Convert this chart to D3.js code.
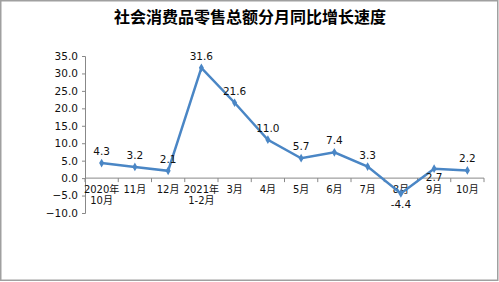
<!DOCTYPE html>
<html>
<head>
<meta charset="utf-8">
<script src="https://d3js.org/d3.v7.min.js"></script>
<style>
  body { margin: 0; background: #fff; }
  text { font-family: "DejaVu Sans", "Noto Sans CJK SC", sans-serif; }
</style>
</head>
<body>
<div id="chart"></div>
<script>
var months = ['2020年|10月', '11月', '12月', '2021年|1-2月', '3月', '4月', '5月', '6月', '7月', '8月', '9月', '10月'];
var growth = [4.3, 3.2, 2.1, 31.6, 21.6, 11.0, 5.7, 7.4, 3.3, -4.4, 2.7, 2.2];
var labelBelow = [false, false, false, false, false, false, false, false, false, true, true, false];
var yTicks = [-10, -5, 0, 5, 10, 15, 20, 25, 30, 35];

var width = 499, height = 282;

var svg = d3.select('#chart').append('svg')
    .attr('width', width)
    .attr('height', height);

// frame
svg.append('rect')
    .attr('x', 0.75).attr('y', 0.75)
    .attr('width', 497).attr('height', 279.5)
    .attr('fill', 'none')
    .attr('stroke', '#a0a0a0')
    .attr('stroke-width', 1.5);

svg.append('text')
    .attr('x', 250).attr('y', 23)
    .attr('text-anchor', 'middle')
    .style('font-family', '"Noto Sans CJK SC", sans-serif')
    .style('font-weight', 'bold')
    .style('font-size', '16px')
    .text('社会消费品零售总额分月同比增长速度');

var x = d3.scaleBand().domain(d3.range(months.length)).range([85, 484]);
var y = d3.scaleLinear().domain([-10, 35]).range([213, 56]);

// y axis
var yAxis = svg.append('g')
    .attr('transform', 'translate(85,0)')
    .call(d3.axisLeft(y).tickValues(yTicks).tickFormat(d3.format('.1f')).tickSize(3).tickPadding(4));
yAxis.select('.domain').attr('stroke', '#888');
yAxis.selectAll('.tick line').attr('stroke', '#888');
yAxis.selectAll('.tick text').style('font-size', '10.5px').attr('fill', '#111');

// x axis at zero
var xAxis = svg.append('g')
    .attr('transform', 'translate(0,' + y(0) + ')');
xAxis.append('line')
    .attr('x1', x.range()[0]).attr('x2', x.range()[1])
    .attr('stroke', '#888');
xAxis.selectAll('.tk')
    .data(d3.range(months.length + 1))
    .enter().append('line')
    .attr('x1', function(d){ return x.range()[0] + d * x.bandwidth(); })
    .attr('x2', function(d){ return x.range()[0] + d * x.bandwidth(); })
    .attr('y1', 0).attr('y2', 4)
    .attr('stroke', '#888');

var cats = xAxis.selectAll('.cat')
    .data(months)
    .enter().append('text')
    .attr('text-anchor', 'middle')
    .attr('x', function(d, i){ return x(i) + x.bandwidth()/2; })
    .style('font-size', '10px')
    .attr('fill', '#111');
cats.each(function(d){
  var el = d3.select(this);
  d.split('|').forEach(function(s, k){
    el.append('tspan')
      .attr('x', el.attr('x'))
      .attr('y', 15 + k * 11)
      .text(s);
  });
});

// line
var line = d3.line()
    .x(function(d, i){ return x(i) + x.bandwidth()/2; })
    .y(function(d){ return y(d); });

svg.append('path')
    .datum(growth)
    .attr('d', line)
    .attr('fill', 'none')
    .attr('stroke', '#4a86c5')
    .attr('stroke-width', 2.5);

svg.selectAll('.pt')
    .data(growth)
    .enter().append('path')
    .attr('d', d3.symbol().type(d3.symbolDiamond).size(22))
    .attr('transform', function(d, i){ return 'translate(' + (x(i) + x.bandwidth()/2) + ',' + y(d) + ')'; })
    .attr('fill', '#4a86c5');

svg.selectAll('.lbl')
    .data(growth)
    .enter().append('text')
    .attr('text-anchor', 'middle')
    .attr('x', function(d, i){ return x(i) + x.bandwidth()/2; })
    .attr('y', function(d, i){ return labelBelow[i] ? y(d) + (d < 0 ? 15 : 12) : y(d) - 8; })
    .style('font-size', '10.5px')
    .attr('fill', '#111')
    .text(function(d){ return d.toFixed(1); });
</script>
</body>
</html>
